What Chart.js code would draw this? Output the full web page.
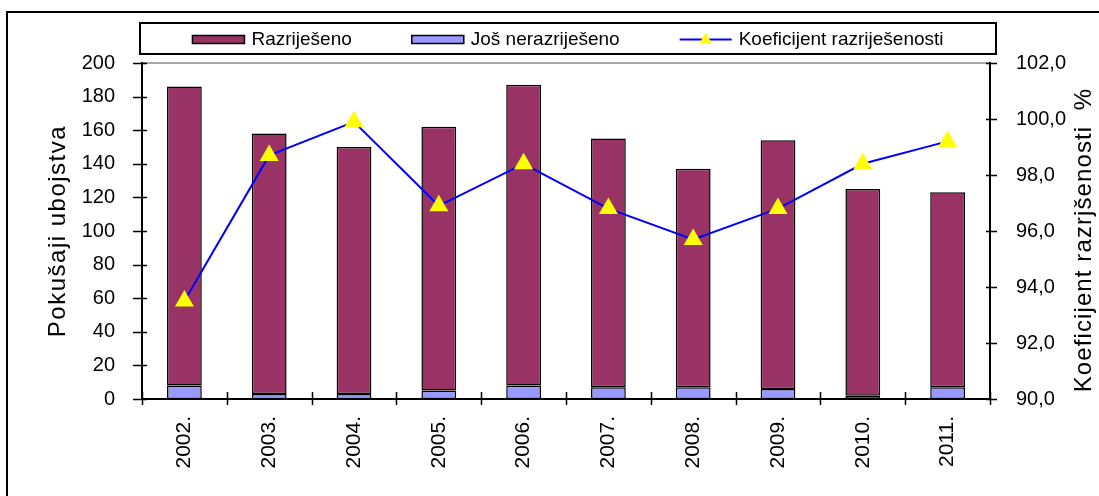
<!DOCTYPE html>
<html>
<head>
<meta charset="utf-8">
<script src="https://cdn.jsdelivr.net/npm/chart.js@4.4.1/dist/chart.umd.min.js"></script>
<style>
  html, body { margin: 0; padding: 0; background: #fff; }
  canvas { display: block; }
</style>
</head>
<body>
<canvas id="chart" width="1099" height="496"></canvas>
<script>
// Data
const years = ['2002.', '2003.', '2004.', '2005.', '2006.', '2007.', '2008.', '2009.', '2010.', '2011.'];
const resolved = [178, 155, 147, 157, 179, 148, 130, 148, 123, 116];
const unresolved = [8, 3, 3, 5, 8, 7, 7, 6, 2, 7];
const coefficient = [93.5, 98.7, 99.9, 96.9, 98.4, 96.8, 95.7, 96.8, 98.4, 99.2];

const leftTitle = 'Pokušaji ubojstva';
const rightTitle = 'Koeficijent razrjšenosti  %';
const legendOrder = [1, 0, 2];

const FONT = '"Liberation Sans", Arial, sans-serif';

// frame, legend box, crossing tick marks and axis titles
const decorPlugin = {
    id: 'decor',
    beforeDraw(chart) {
        const ctx = chart.ctx;
        const a = chart.chartArea;
        ctx.save();
        ctx.fillStyle = '#fff';
        ctx.fillRect(0, 0, chart.width, chart.height);
        ctx.strokeStyle = '#000';
        ctx.lineWidth = 2;
        ctx.strokeRect(7, 12, chart.width + 20, chart.height + 20);
        ctx.strokeStyle = '#a6a6a6';
        ctx.beginPath();
        ctx.moveTo(a.left, a.top);
        ctx.lineTo(a.right, a.top);
        ctx.stroke();
        ctx.restore();
    },
    afterDraw(chart) {
        const ctx = chart.ctx;
        const a = chart.chartArea;
        const x = chart.scales.x, y = chart.scales.y, y1 = chart.scales.y1;
        ctx.save();
        ctx.strokeStyle = '#000';
        ctx.lineWidth = 1.5;
        ctx.beginPath();
        y.ticks.forEach((t, i) => {
            const py = Math.round(y.getPixelForTick(i)) + 0.5;
            ctx.moveTo(a.left - 9, py); ctx.lineTo(a.left + 5, py);
        });
        y1.ticks.forEach((t, i) => {
            const py = Math.round(y1.getPixelForTick(i)) + 0.5;
            ctx.moveTo(a.right - 4, py); ctx.lineTo(a.right + 7, py);
        });
        for (let i = 0; i <= years.length; i++) {
            const px = Math.round(x.getPixelForValue(i - 0.5)) + 0.5;
            ctx.moveTo(px, a.bottom - 7); ctx.lineTo(px, a.bottom + 6);
        }
        ctx.stroke();

        // legend
        const box = { left: 140, top: 23, right: 996, bottom: 54 };
        ctx.lineWidth = 2;
        ctx.strokeRect(box.left, box.top, box.right - box.left, box.bottom - box.top);
        ctx.font = '19px ' + FONT;
        ctx.textBaseline = 'middle';
        const sw = 52, gapText = 7, gapItem = 60;
        const items = legendOrder.map(i => chart.data.datasets[i]);
        let total = 0;
        items.forEach(d => { total += sw + gapText + ctx.measureText(d.label).width; });
        total += gapItem * (items.length - 1);
        let cx = (box.left + box.right - total) / 2;
        const cy = (box.top + box.bottom) / 2 + 1;
        items.forEach(d => {
            if (d.type === 'line') {
                ctx.strokeStyle = d.borderColor;
                ctx.lineWidth = 2;
                ctx.beginPath();
                ctx.moveTo(cx, cy); ctx.lineTo(cx + sw, cy);
                ctx.stroke();
                const mx = cx + sw / 2, r = 7;
                ctx.fillStyle = d.pointBackgroundColor;
                ctx.beginPath();
                ctx.moveTo(mx, cy - r);
                ctx.lineTo(mx + r * 0.866, cy + r * 0.5);
                ctx.lineTo(mx - r * 0.866, cy + r * 0.5);
                ctx.closePath();
                ctx.fill();
            } else {
                ctx.fillStyle = d.backgroundColor;
                ctx.strokeStyle = '#000';
                ctx.lineWidth = 1.5;
                ctx.fillRect(cx, cy - 4, sw, 8);
                ctx.strokeRect(cx, cy - 4, sw, 8);
            }
            cx += sw + gapText;
            ctx.fillStyle = '#000';
            ctx.textAlign = 'left';
            ctx.fillText(d.label, cx, cy);
            cx += ctx.measureText(d.label).width + gapItem;
        });

        // axis titles, both reading bottom to top
        const midY = (a.top + a.bottom) / 2;
        ctx.textAlign = 'center';
        ctx.fillStyle = '#000';
        ctx.font = '24px ' + FONT;
        ctx.letterSpacing = '1.5px';
        ctx.save();
        ctx.translate(58, midY);
        ctx.rotate(-Math.PI / 2);
        ctx.fillText(leftTitle, 0, 0);
        ctx.restore();
        ctx.letterSpacing = '1.1px';
        ctx.save();
        ctx.translate(1084, midY + 9);
        ctx.rotate(-Math.PI / 2);
        ctx.fillText(rightTitle, 0, 0);
        ctx.restore();
        ctx.restore();
    }
};

const canvas = document.getElementById('chart');
const chart = new Chart(canvas, {
    type: 'bar',
    data: {
        labels: years,
        datasets: [{
            label: 'Još nerazriješeno',
            data: unresolved,
            backgroundColor: '#9999ff',
            borderColor: '#000',
            borderWidth: 1.5,
            borderSkipped: false,
            yAxisID: 'y',
            barPercentage: 0.41,
            categoryPercentage: 1
        }, {
            label: 'Razriješeno',
            data: resolved,
            backgroundColor: '#993366',
            borderColor: '#000',
            borderWidth: 1.5,
            borderSkipped: false,
            yAxisID: 'y',
            barPercentage: 0.41,
            categoryPercentage: 1
        }, {
            type: 'line',
            label: 'Koeficijent razriješenosti',
            data: coefficient,
            yAxisID: 'y1',
            order: -1,
            borderColor: '#0000ff',
            borderWidth: 2,
            tension: 0,
            pointStyle: 'triangle',
            pointRadius: 11,
            pointBackgroundColor: '#ffff00',
            pointBorderColor: '#ffff00',
            pointBorderWidth: 0
        }]
    },
    options: {
        responsive: false,
        animation: false,
        layout: { padding: { top: 63, left: 0, right: 0, bottom: 0 } },
        plugins: {
            legend: { display: false },
            tooltip: { enabled: false }
        },
        scales: {
            x: {
                stacked: true,
                offset: true,
                grid: { display: false, offset: true },
                border: { display: true, color: '#000', width: 2 },
                ticks: {
                    color: '#000',
                    font: { family: FONT, size: 21 },
                    minRotation: 90,
                    maxRotation: 90,
                    padding: 9
                },
                afterFit(scale) { scale.height = 97; }
            },
            y: {
                stacked: true,
                position: 'left',
                min: 0,
                max: 200,
                grid: { display: false },
                border: { display: true, color: '#000', width: 2 },
                ticks: {
                    stepSize: 20,
                    color: '#000',
                    font: { family: FONT, size: 20 },
                    padding: 19
                },
                afterFit(scale) { scale.width = 142; }
            },
            y1: {
                position: 'right',
                min: 90,
                max: 102,
                grid: { display: false },
                border: { display: true, color: '#000', width: 2 },
                ticks: {
                    stepSize: 2,
                    color: '#000',
                    font: { family: FONT, size: 20 },
                    padding: 18,
                    callback: v => v.toFixed(1).replace('.', ',')
                },
                afterFit(scale) { scale.width = 109; }
            }
        }
    },
    plugins: [decorPlugin]
});
</script>
</body>
</html>
